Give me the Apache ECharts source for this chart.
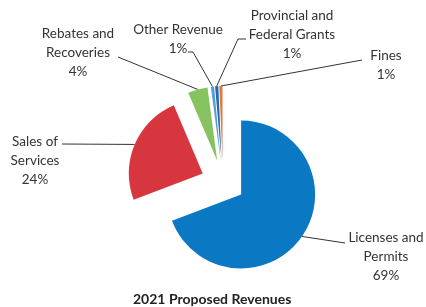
<!DOCTYPE html>
<html>
<head>
<meta charset="utf-8">
<script src="https://cdn.jsdelivr.net/npm/echarts@6/dist/echarts.min.js"></script>
<style>
    html, body { margin: 0; padding: 0; background: #fff; }
    #chart { width: 426px; height: 307px; }
</style>
</head>
<body>
<div id="chart"></div>
<script>
// revenue sources, clockwise from 12 o'clock (share of total, %)
const categories = ['Licenses and\nPermits', 'Sales of\nServices', 'Rebates and\nRecoveries', 'Other Revenue', 'Provincial and\nFederal Grants', 'Fines'];
const values = [69.2, 24.4, 4.3, 0.7, 0.7, 0.7];
const colors = ['#0b78c3', '#d8363f', '#86c25f', '#5b9bd5', '#2168b8', '#e07b39'];

// where each label sits (text centre) and the elbow of its leader line
const labelSpots = [
    { x: 386, y: 257, end: [345, 243] },
    { x: 35, y: 161, end: [62, 144] },
    { x: 78, y: 53, end: [118, 57] },
    { x: 178, y: 39, elbow: [193, 52], end: [188, 52] },
    { x: 292, y: 35, elbow: [238, 39], end: [246, 39] },
    { x: 386, y: 65, end: [362, 60] }
];

const pieCenter = [223, 182];
const explode = 22;

const chart = echarts.init(document.getElementById('chart'));

// exploded pie: one series per slice, shifted outwards along its mid angle
const total = values.reduce((a, b) => a + b, 0);
let acc = 0;
const series = values.map((v, k) => {
    const mid = (acc + v / 2) / total * Math.PI * 2;
    acc += v;
    const cx = pieCenter[0] + explode * Math.sin(mid);
    const cy = pieCenter[1] - explode * Math.cos(mid);
    return {
        type: 'pie',
        center: [cx, cy],
        radius: 74,
        startAngle: 90,
        clockwise: true,
        percentPrecision: 0,
        avoidLabelOverlap: false,
        emphasis: { disabled: true },
        label: {
            show: true,
            position: 'outside',
            formatter: '{b}\n{d}%',
            fontFamily: 'Lato',
            fontSize: 13.5,
            lineHeight: 19,
            color: '#333',
            align: 'center'
        },
        labelLine: {
            show: true,
            lineStyle: { color: '#333', width: 1 }
        },
        labelLayout: function (params) {
            const spot = labelSpots[params.dataIndex];
            const start = params.labelLinePoints ? params.labelLinePoints[0] : spot.end;
            const pts = spot.elbow ? [start, spot.elbow, spot.end] : [start, spot.end, spot.end];
            return {
                x: spot.x,
                y: spot.y,
                align: 'center',
                verticalAlign: 'middle',
                labelLinePoints: pts
            };
        },
        data: categories.map((name, i) => ({
            name: name,
            value: values[i],
            itemStyle: { color: i === k ? colors[i] : 'rgba(0,0,0,0)' },
            label: { show: i === k },
            labelLine: { show: i === k }
        }))
    };
});

let option = {
    animation: false,
    title: {
        text: '2021 Proposed Revenues',
        left: 128,
        top: 287,
        textStyle: {
            fontFamily: 'Lato',
            fontSize: 14,
            fontWeight: 'bold',
            color: '#222'
        }
    },
    series: series
};

chart.setOption(option);
</script>
</body>
</html>
